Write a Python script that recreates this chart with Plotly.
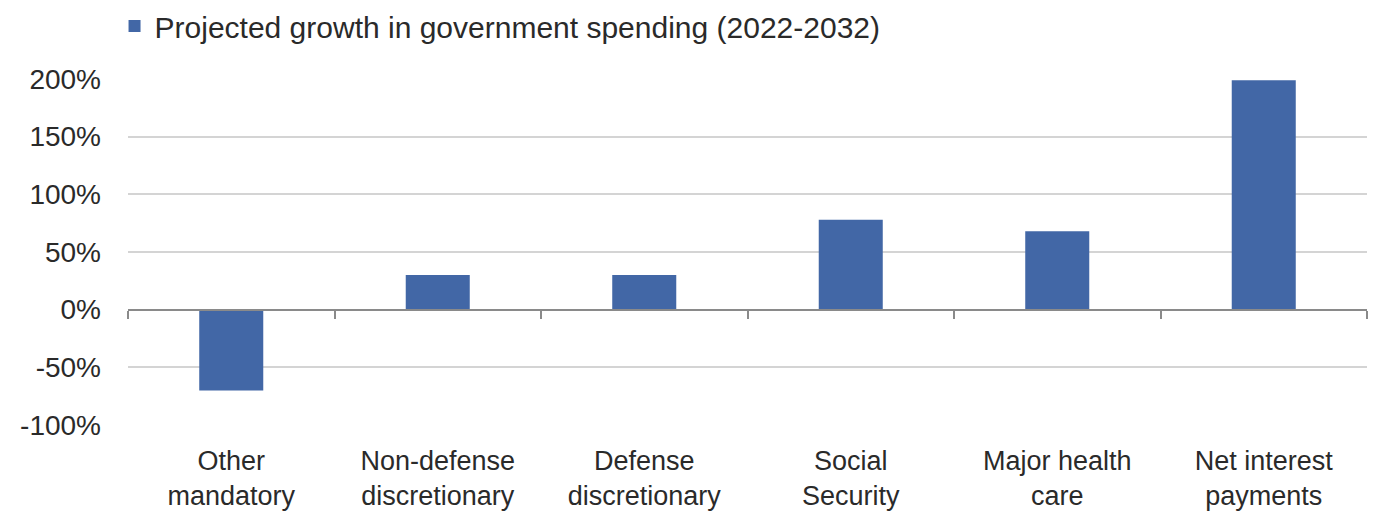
import plotly.graph_objects as go

# Projected growth in government spending, 2022-2032 (percent)
categories = [
    "Other<br>mandatory",
    "Non-defense<br>discretionary",
    "Defense<br>discretionary",
    "Social<br>Security",
    "Major health<br>care",
    "Net interest<br>payments",
]
growth_pct = [-70, 30, 30, 78, 68, 199]
series_name = "Projected growth in government spending (2022-2032)"
y_ticks = [-100, -50, 0, 50, 100, 150, 200]
y_tick_labels = [f"{v}%" for v in y_ticks]

BAR = "#4267A6"
TEXT = "#2a2a2a"
GRID = "#d4d4d4"
AXIS = "#8a8a8a"
FONT = "Liberation Sans, Arial, sans-serif"

fig = go.Figure()
fig.add_trace(go.Bar(
    x=categories, y=growth_pct, name=series_name,
    marker=dict(color=BAR, line=dict(width=0)),
    width=0.31, showlegend=True,
))
# invisible helper trace so the zero-line category axis with boundary ticks is drawn
fig.add_trace(go.Bar(
    x=categories, y=[0] * len(categories), xaxis="x2",
    marker=dict(color="rgba(0,0,0,0)"), showlegend=False, hoverinfo="skip",
))

y_min, y_max = y_ticks[0], y_ticks[-1]

fig.update_layout(
    width=1380, height=517,
    margin=dict(l=128, r=13, t=79, b=92, autoexpand=False),
    paper_bgcolor="white", plot_bgcolor="white",
    font=dict(family=FONT, color=TEXT),
    bargap=0.69,
    legend=dict(
        orientation="h", xref="container", yref="container",
        x=0.083, y=1.0, xanchor="left", yanchor="top",
        font=dict(size=30, color=TEXT), itemwidth=30,
        bgcolor="rgba(0,0,0,0)",
    ),
    xaxis=dict(
        type="category", categoryarray=categories, range=[-0.5, 5.5],
        showline=False, showgrid=False, zeroline=False, ticks="",
        tickfont=dict(size=27, color=TEXT), ticklabelstandoff=17,
        automargin=False,
    ),
    xaxis2=dict(
        type="category", categoryarray=categories, range=[-0.5, 5.5],
        overlaying="x", anchor="free",
        position=(0 - y_min) / (y_max - y_min),
        side="bottom", showticklabels=False, showgrid=False, zeroline=False,
        showline=True, linecolor=AXIS, linewidth=2,
        ticks="outside", tickson="boundaries", ticklen=8, tickwidth=2, tickcolor=AXIS,
    ),
    yaxis=dict(
        range=[y_min, y_max], tickvals=y_ticks, ticktext=y_tick_labels,
        showgrid=True, gridcolor=GRID, gridwidth=2,
        zeroline=False, showline=False, ticks="",
        tickfont=dict(size=28, color=TEXT), ticklabelstandoff=26,
        automargin=False,
    ),
)

fig.write_html("out.html")
